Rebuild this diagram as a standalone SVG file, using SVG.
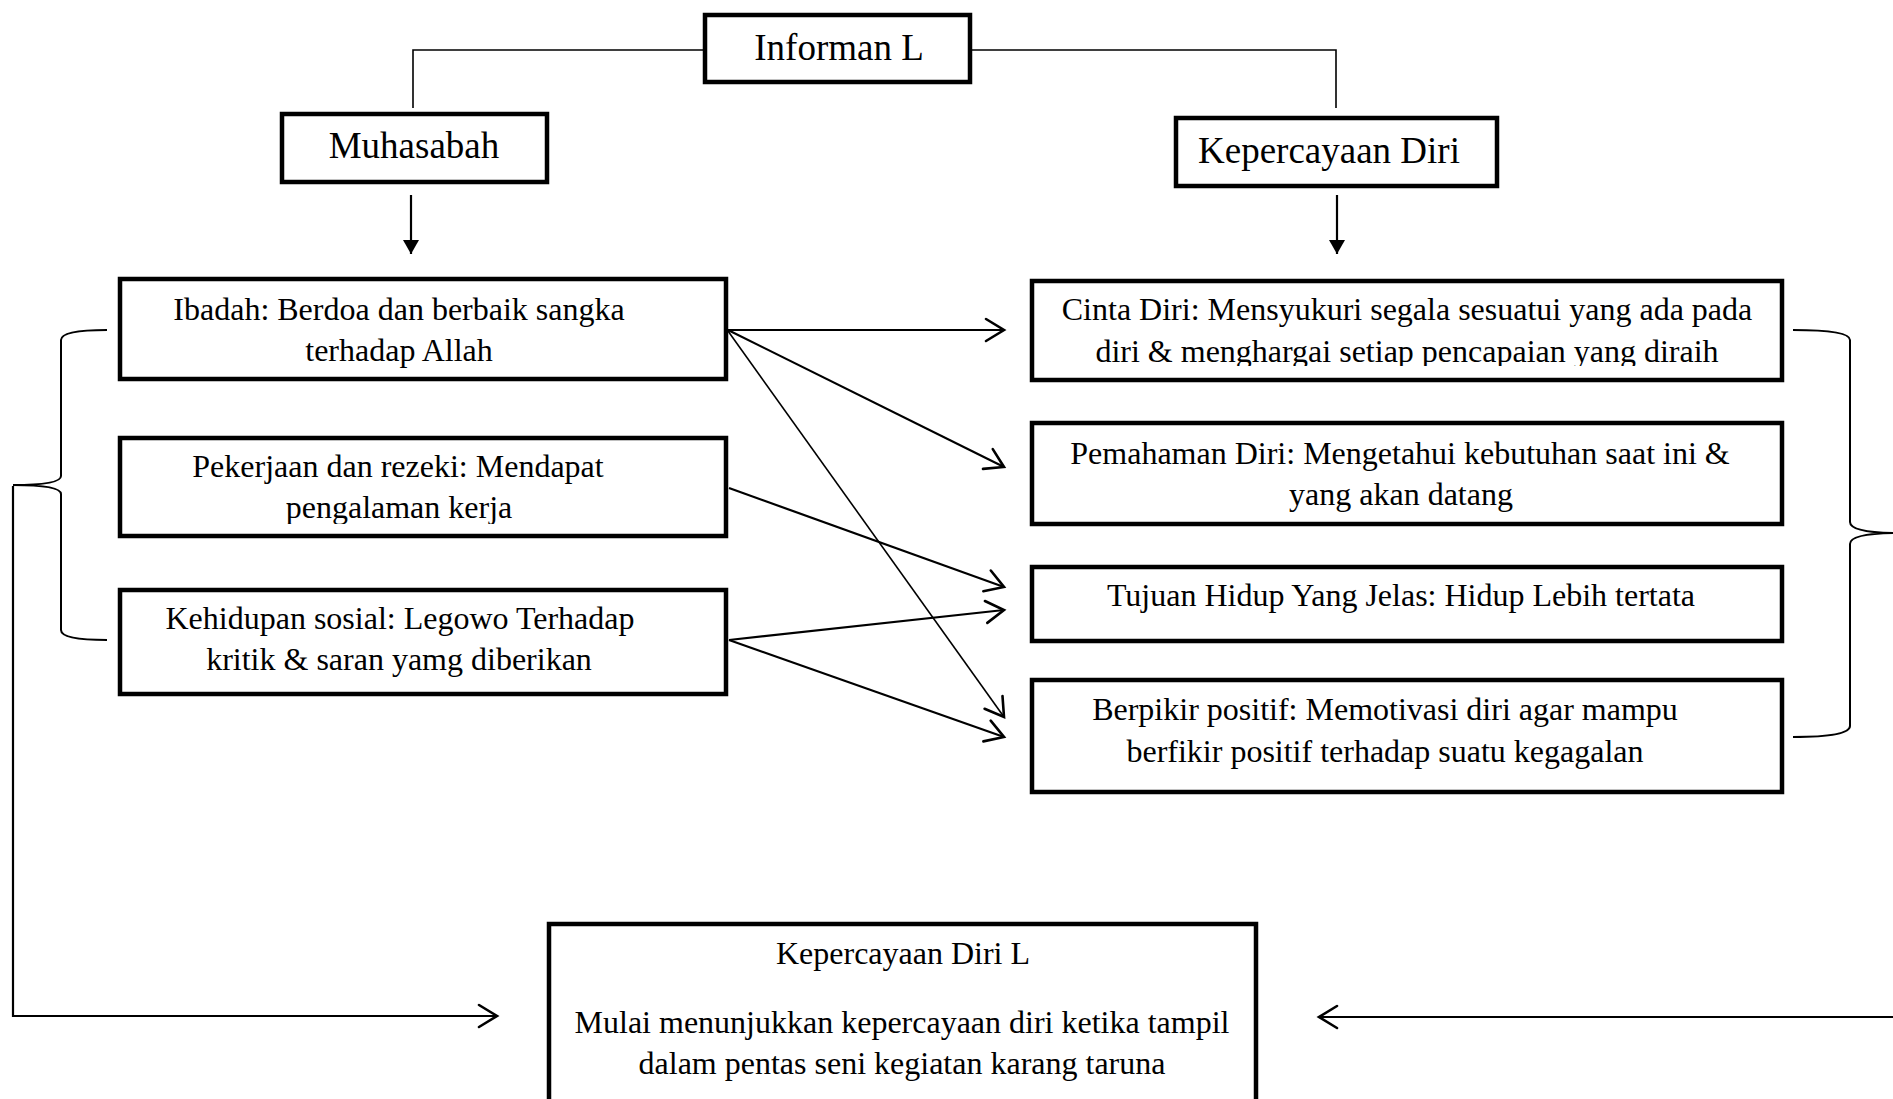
<svg xmlns="http://www.w3.org/2000/svg" width="1893" height="1099" viewBox="0 0 1893 1099">
  <style>
    .box { fill: #ffffff; stroke: #000000; stroke-width: 4.5; }
    .title { font-family: "Liberation Serif", "Times New Roman", serif; font-size: 37px; fill: #000000; text-anchor: middle; }
    .body { font-family: "Liberation Serif", "Times New Roman", serif; font-size: 32px; fill: #000000; text-anchor: middle; }
    .tree { fill: none; stroke: #000000; stroke-width: 1.6; }
    .link { fill: none; stroke: #000000; stroke-width: 2.2; }
    .thin { fill: none; stroke: #000000; stroke-width: 1.6; }
    .brace { fill: none; stroke: #000000; stroke-width: 2; }
  </style>
  <defs>
    <marker id="tri" markerUnits="userSpaceOnUse" markerWidth="14" markerHeight="16" viewBox="0 0 14 16" refX="14" refY="8" orient="auto">
      <path d="M0,0 L14,8 L0,16 z" fill="#000000"/>
    </marker>
    <marker id="chev" markerUnits="userSpaceOnUse" markerWidth="24" markerHeight="26" viewBox="0 0 24 26" refX="20" refY="13" orient="auto">
      <path d="M2,2 L20,13 L2,24" fill="none" stroke="#000000" stroke-width="2.6" stroke-linecap="round" stroke-linejoin="miter"/>
    </marker>
    <clipPath id="clipCinta"><rect x="1033" y="281" width="748" height="85"/></clipPath>
    <clipPath id="clipKerja"><rect x="121" y="438" width="604" height="86"/></clipPath>
  </defs>

  <rect width="1893" height="1099" fill="#ffffff"/>

  <!-- connectors -->
  <g id="connectors">
    <path class="tree" d="M704,50 H413 V108"/>
    <path class="tree" d="M971,50 H1336 V108"/>
    <path class="link" d="M411,195 V254" marker-end="url(#tri)"/>
    <path class="link" d="M1337,195 V254" marker-end="url(#tri)"/>

    <path class="link" d="M728,330 L1004,330" marker-end="url(#chev)"/>
    <path class="link" d="M728,330 L1004,467" marker-end="url(#chev)"/>
    <path class="thin" d="M728,331 L1004,717" marker-end="url(#chev)"/>
    <path class="link" d="M729,488 L1004,587" marker-end="url(#chev)"/>
    <path class="link" d="M729,640 L1004,610" marker-end="url(#chev)"/>
    <path class="link" d="M729,640 L1004,737" marker-end="url(#chev)"/>

    <!-- left brace and its link to the result -->
    <path class="brace" d="M107,330 Q61,330 61,340 V476 Q61,485 13,485 Q61,485 61,494 V630 Q61,640 107,640"/>
    <path class="link" d="M13,486 V1016 H497" marker-end="url(#chev)"/>

    <!-- right brace and its link to the result -->
    <path class="brace" d="M1793,330 Q1850,330 1850,340 V522 Q1850,533 1900,533 Q1850,533 1850,544 V726 Q1850,737 1793,737"/>
    <path class="link" d="M1900,1017 H1319" marker-end="url(#chev)"/>
  </g>

  <!-- top level -->
  <g id="informan">
    <rect class="box" x="705" y="15" width="265" height="67"/>
    <text class="title" x="839" y="60">Informan L</text>
  </g>
  <g id="muhasabah">
    <rect class="box" x="282" y="114" width="265" height="68"/>
    <text class="title" x="414" y="158">Muhasabah</text>
  </g>
  <g id="kepercayaan">
    <rect class="box" x="1176" y="118" width="321" height="68"/>
    <text class="title" x="1329" y="163">Kepercayaan Diri</text>
  </g>

  <!-- muhasabah aspects -->
  <g id="ibadah">
    <rect class="box" x="120" y="279" width="606" height="100"/>
    <text class="body" x="399" y="320">Ibadah: Berdoa dan berbaik sangka</text>
    <text class="body" x="399" y="361">terhadap Allah</text>
  </g>
  <g id="pekerjaan">
    <rect class="box" x="120" y="438" width="606" height="98"/>
    <text class="body" x="398" y="477">Pekerjaan dan rezeki: Mendapat</text>
    <text class="body" x="399" y="518" clip-path="url(#clipKerja)">pengalaman kerja</text>
  </g>
  <g id="kehidupan">
    <rect class="box" x="120" y="590" width="606" height="104"/>
    <text class="body" x="400" y="629">Kehidupan sosial: Legowo Terhadap</text>
    <text class="body" x="399" y="670">kritik &amp; saran yamg diberikan</text>
  </g>

  <!-- self-confidence aspects -->
  <g id="cinta">
    <rect class="box" x="1032" y="281" width="750" height="99"/>
    <text class="body" x="1407" y="320">Cinta Diri: Mensyukuri segala sesuatui yang ada pada</text>
    <text class="body" x="1407" y="362" clip-path="url(#clipCinta)">diri &amp; menghargai setiap pencapaian yang diraih</text>
  </g>
  <g id="pemahaman">
    <rect class="box" x="1032" y="423" width="750" height="101"/>
    <text class="body" x="1400" y="464">Pemahaman Diri: Mengetahui kebutuhan saat ini &amp;</text>
    <text class="body" x="1401" y="505">yang akan datang</text>
  </g>
  <g id="tujuan">
    <rect class="box" x="1032" y="567" width="750" height="74"/>
    <text class="body" x="1401" y="606">Tujuan Hidup Yang Jelas: Hidup Lebih tertata</text>
  </g>
  <g id="berpikir">
    <rect class="box" x="1032" y="680" width="750" height="112"/>
    <text class="body" x="1385" y="720">Berpikir positif: Memotivasi diri agar mampu</text>
    <text class="body" x="1385" y="762">berfikir positif terhadap suatu kegagalan</text>
  </g>

  <!-- result -->
  <g id="hasil">
    <rect class="box" x="549" y="924" width="707" height="220"/>
    <text class="body" x="903" y="964">Kepercayaan Diri L</text>
    <text class="body" x="902" y="1033">Mulai menunjukkan kepercayaan diri ketika tampil</text>
    <text class="body" x="902" y="1074">dalam pentas seni kegiatan karang taruna</text>
  </g>
</svg>
